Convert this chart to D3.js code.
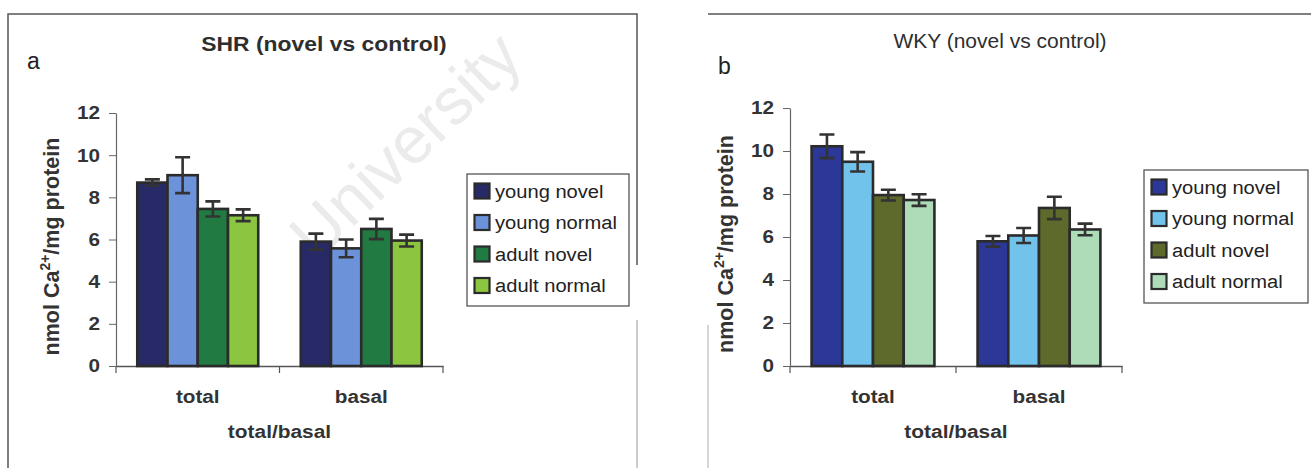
<!DOCTYPE html>
<html>
<head>
<meta charset="utf-8">
<script src="https://cdn.jsdelivr.net/npm/d3@7"></script>
<style>
  html, body { margin: 0; padding: 0; background: #fff; }
  svg { display: block; font-family: "Liberation Sans", Arial, sans-serif; }
</style>
</head>
<body>
<svg id="chart" width="1311" height="468"></svg>
<script>
// Calcium content, nmol Ca2+/mg protein, by group (mean and SEM)
const categories = ["total", "basal"];
const seriesNames = ["young novel", "young normal", "adult novel", "adult normal"];
const yTicks = [0, 2, 4, 6, 8, 10, 12];

// rows follow categories, columns follow seriesNames
const shrMean = [[8.70, 9.05, 7.45, 7.15], [5.90, 5.58, 6.50, 5.95]];
const shrErr  = [[0.15, 0.85, 0.36, 0.28], [0.38, 0.42, 0.48, 0.28]];
const wkyMean = [[10.22, 9.50, 7.95, 7.72], [5.80, 6.07, 7.35, 6.35]];
const wkyErr  = [[0.55, 0.45, 0.25, 0.27], [0.25, 0.35, 0.52, 0.27]];

const shrColors = ["#282a68", "#6c93da", "#207a42", "#8cc640"];
const wkyColors = ["#2b3898", "#72c3ec", "#5d6a2b", "#aedcb8"];

const svg = d3.select("#chart");
const INK = "#2e2e2e";

function addText(parent, x, y, str, o = {}) {
  const t = parent.append("text")
    .attr("transform", `translate(${x},${y}) scale(${o.sx || 1},1)` + (o.rotate ? ` rotate(${o.rotate})` : ""))
    .attr("font-size", o.size || 18)
    .attr("font-weight", o.weight || "normal")
    .attr("text-anchor", o.anchor || "start")
    .attr("fill", o.fill || INK);
  if (o.baseline) t.attr("dominant-baseline", o.baseline);
  t.text(str);
  return t;
}

// Frame lines around the two figure panels
const frame = svg.append("g").attr("fill", "none");
frame.append("path").attr("d", "M8,468V14H637V265").attr("stroke", "#555").attr("stroke-width", 1.5);
frame.append("path").attr("d", "M637,320V468").attr("stroke", "#aaa").attr("stroke-width", 1.2);
frame.append("path").attr("d", "M708,14H1311").attr("stroke", "#555").attr("stroke-width", 1.5);
frame.append("path").attr("d", "M708,325V468").attr("stroke", "#bbb").attr("stroke-width", 1.2);

// Faint watermark behind the left panel
addText(svg, 405, 145, "University", { size: 66, anchor: "middle", baseline: "central", rotate: -44, fill: "#ebebeb" });

const panels = [
  { title: "SHR (novel vs control)", titleWeight: "bold", titleSx: 1.09, letter: "a",
    mean: shrMean, err: shrErr, colors: shrColors,
    x0: 116, x1: 443, yTop: 113, yBase: 366,
    titleX: 324, titleY: 51, letterX: 27, letterY: 69, yLabelX: 59,
    legend: { x: 467, y: 174, w: 162, h: 132 } },
  { title: "WKY (novel vs control)", titleWeight: "normal", titleSx: 1.0, letter: "b",
    mean: wkyMean, err: wkyErr, colors: wkyColors,
    x0: 790, x1: 1122, yTop: 108, yBase: 366,
    titleX: 1000, titleY: 48, letterX: 718, letterY: 74, yLabelX: 733,
    legend: { x: 1144, y: 170, w: 164, h: 133 } }
];

panels.forEach(p => {
  const g = svg.append("g");

  const x = d3.scaleBand().domain(categories).range([p.x0, p.x1])
    .paddingInner(0.26).paddingOuter(0.13);
  const xs = d3.scaleBand().domain(seriesNames).range([0, x.bandwidth()]);
  const y = d3.scaleLinear().domain([0, 12]).range([p.yBase, p.yTop]);

  // Titles
  addText(g, p.titleX, p.titleY, p.title, { size: 21, weight: p.titleWeight, anchor: "middle", sx: p.titleSx });
  addText(g, p.letterX, p.letterY, p.letter, { size: 23, fill: "#222" });

  // Y axis
  const gy = g.append("g").attr("transform", `translate(${p.x0},0)`)
    .call(d3.axisLeft(y).tickValues(yTicks).tickSize(7).tickPadding(9).tickSizeOuter(0));
  gy.select(".domain").attr("stroke", "#666").attr("stroke-width", 1.2);
  gy.selectAll(".tick line").attr("stroke", "#666").attr("stroke-width", 1);
  gy.selectAll(".tick text")
    .attr("x", null)
    .attr("transform", "translate(-16,0) scale(1.12,1)")
    .attr("font-size", 18.5).attr("font-weight", "bold")
    .attr("font-family", "Liberation Sans, Arial, sans-serif")
    .attr("fill", "#333");

  // Y axis title with superscript charge
  const yt = g.append("text")
    .attr("transform", `translate(${p.yLabelX},${(p.yTop + p.yBase) / 2 + 7}) rotate(-90)`)
    .attr("text-anchor", "middle").attr("font-size", 21.5).attr("font-weight", "bold").attr("fill", "#333");
  yt.append("tspan").text("nmol Ca");
  yt.append("tspan").attr("font-size", 14).attr("dy", -9).text("2+");
  yt.append("tspan").attr("dy", 9).text("/mg protein");

  // X axis: category labels at band centres, ticks at band edges
  const gx = g.append("g").attr("transform", `translate(0,${p.yBase})`)
    .call(d3.axisBottom(x).tickSize(0).tickPadding(24).tickSizeOuter(0));
  gx.select(".domain").attr("stroke", "#555").attr("stroke-width", 1.4);
  gx.selectAll(".tick text")
    .attr("transform", "scale(1.12,1)")
    .attr("font-size", 18.5).attr("font-weight", "bold")
    .attr("font-family", "Liberation Sans, Arial, sans-serif")
    .attr("fill", "#333");
  gx.selectAll("line.edge")
    .data(d3.range(categories.length + 1).map(i => p.x0 + i * x.step()))
    .join("line").attr("class", "edge")
    .attr("x1", d => d).attr("x2", d => d).attr("y1", 0).attr("y2", 7)
    .attr("stroke", "#555").attr("stroke-width", 1.2);

  addText(g, (p.x0 + p.x1) / 2, 438, "total/basal", { size: 18.5, weight: "bold", anchor: "middle", sx: 1.13, fill: "#333" });

  // Bars
  const rows = categories.flatMap((c, ci) => seriesNames.map((s, si) => ({
    c, s, v: p.mean[ci][si], e: p.err[ci][si], color: p.colors[si]
  })));

  g.append("g").selectAll("rect").data(rows).join("rect")
    .attr("x", d => x(d.c) + xs(d.s))
    .attr("y", d => y(d.v))
    .attr("width", xs.bandwidth())
    .attr("height", d => y(0) - y(d.v))
    .attr("fill", d => d.color)
    .attr("stroke", "#2b2b2b").attr("stroke-width", 2.6);

  // Error bars
  const eg = g.append("g").attr("stroke", "#333").attr("stroke-width", 2.6).attr("fill", "none");
  const cx = d => x(d.c) + xs(d.s) + xs.bandwidth() / 2;
  eg.selectAll("path").data(rows).join("path")
    .attr("d", d => {
      const t = y(d.v + d.e), b = y(d.v - d.e), m = cx(d);
      return `M${m},${t}V${b}M${m - 7.5},${t}H${m + 7.5}M${m - 7.5},${b}H${m + 7.5}`;
    });

  // Legend
  const L = p.legend;
  const lg = g.append("g").attr("transform", `translate(${L.x},${L.y})`);
  lg.append("rect").attr("width", L.w).attr("height", L.h)
    .attr("fill", "#fff").attr("stroke", "#555").attr("stroke-width", 1.3);
  const item = lg.selectAll("g.item").data(seriesNames).join("g").attr("class", "item")
    .attr("transform", (d, i) => `translate(0,${17 + i * 31.5})`);
  item.append("rect").attr("x", 7.5).attr("y", -7.5).attr("width", 15).attr("height", 15)
    .attr("fill", (d, i) => p.colors[i]).attr("stroke", "#2b2b2b").attr("stroke-width", 2.2);
  item.each(function (d) {
    addText(d3.select(this), 28, 0, d, { size: 19, sx: 1.06, baseline: "central", fill: "#222" });
  });
});
</script>
</body>
</html>
